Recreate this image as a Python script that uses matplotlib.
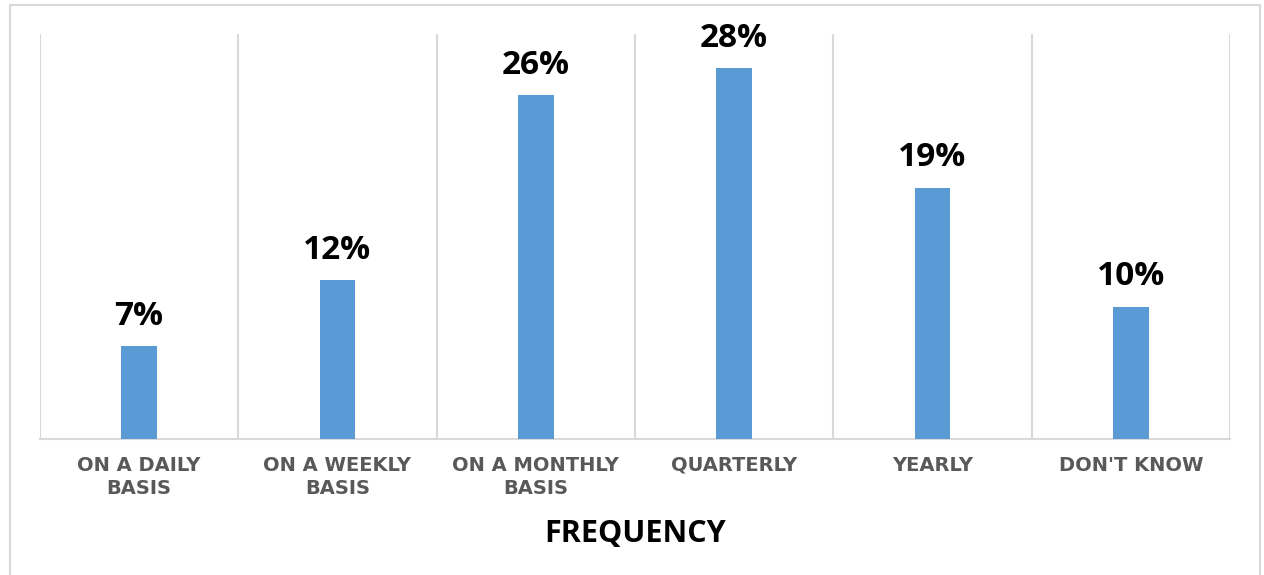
"""Bar chart of how often respondents do the activity, by frequency."""

import matplotlib

matplotlib.use("Agg")
import matplotlib.pyplot as plt
from matplotlib.patches import Rectangle

categories = [
    "ON A DAILY\nBASIS",
    "ON A WEEKLY\nBASIS",
    "ON A MONTHLY\nBASIS",
    "QUARTERLY",
    "YEARLY",
    "DON'T KNOW",
]
shares = [7, 12, 26, 28, 19, 10]

BAR_COLOR = "#5b9bd5"
GRID_COLOR = "#d9d9d9"
TICK_COLOR = "#595959"

fig = plt.figure(figsize=(12.64, 5.75), dpi=100)
ax = fig.add_axes([0.0316, 0.2365, 0.9415, 0.7044])

x = list(range(len(categories)))
ax.bar(x, shares, width=0.18, color=BAR_COLOR, zorder=3)

for xi, v in zip(x, shares):
    ax.text(xi, v + 1.6, f"{v}%", ha="center", va="baseline",
            fontsize=24, fontweight="bold", color="black", family="Open Sans")

ax.set_xlim(-0.5, len(categories) - 0.5)
ax.set_ylim(0, 30.6)

# separators between categories instead of a y grid
for b in range(len(categories) + 1):
    ax.axvline(b - 0.5, color=GRID_COLOR, lw=1.5, zorder=1)

for side in ("left", "right", "top"):
    ax.spines[side].set_visible(False)
ax.spines["bottom"].set_color(GRID_COLOR)
ax.spines["bottom"].set_linewidth(1.5)

ax.set_yticks([])
ax.set_xticks(x)
ax.set_xticklabels(categories, fontsize=14, fontweight="bold", color=TICK_COLOR,
                   family="DejaVu Sans", linespacing=1.3)
ax.tick_params(axis="x", length=0, pad=12)

ax.set_xlabel("FREQUENCY", fontsize=22, fontweight="bold", color="black",
              family="Open Sans", labelpad=15)

# light frame round the chart area
fig.patches.append(Rectangle((0.0079, -0.05), 0.9889, 1.0413, transform=fig.transFigure,
                             fill=False, edgecolor=GRID_COLOR, lw=1.5, clip_on=False))

fig.savefig("out.png", dpi=100, facecolor="white")
plt.close(fig)
